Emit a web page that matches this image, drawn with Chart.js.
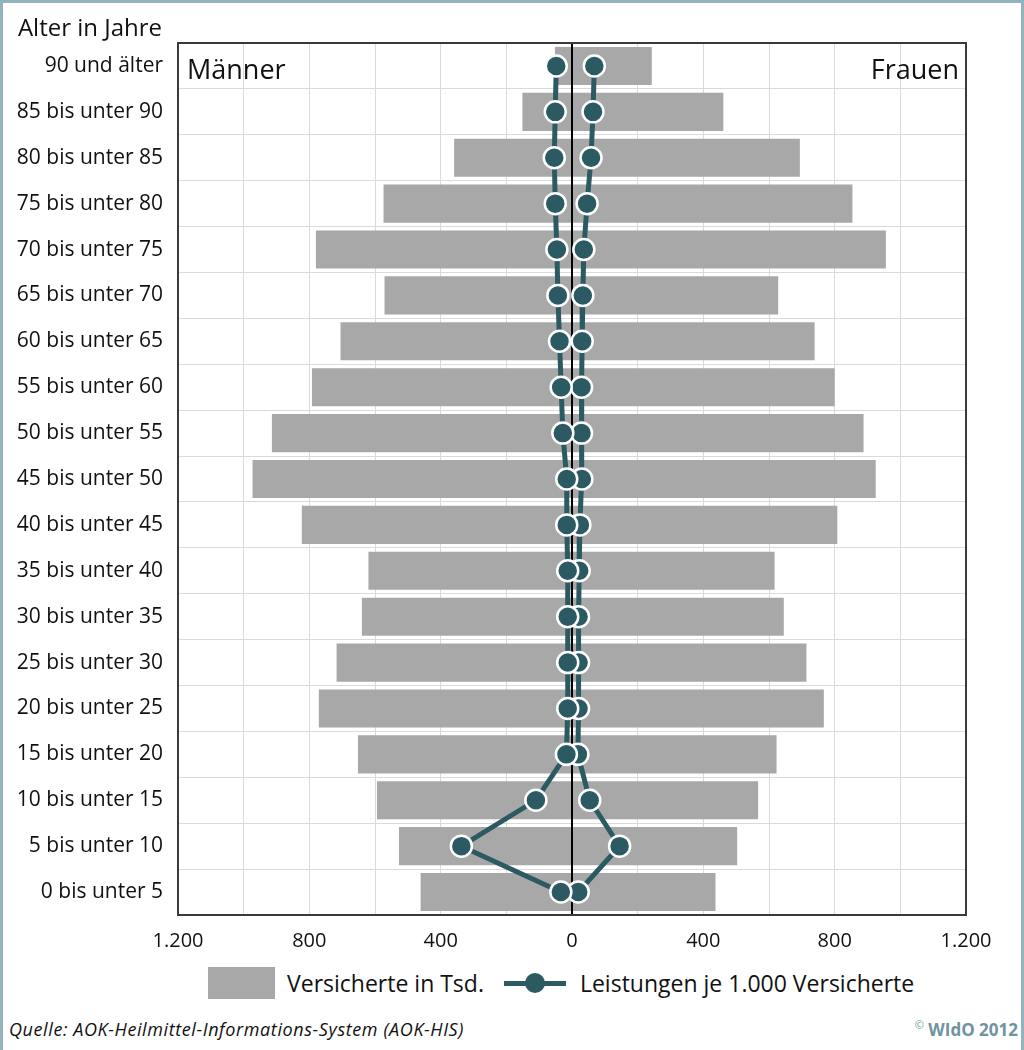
<!DOCTYPE html>
<html lang="de">
<head>
<meta charset="utf-8">
<script src="https://cdn.jsdelivr.net/npm/chart.js@4"></script>
<style>
    html, body { margin: 0; padding: 0; background: #fff; }
    body { width: 1024px; height: 1050px; position: relative; overflow: hidden; font-family: 'Open Sans', sans-serif; color: #111; }
    .frame { position: absolute; left: 0; top: 0; width: 1018px; height: 1050px; border: 3px solid #92b3bd; border-bottom: none; }
    .chart-box { position: absolute; left: 0; top: 0; width: 1024px; height: 960px; }
    .legend { position: absolute; top: 967px; left: 208px; display: flex; align-items: center; font-size: 23px; }
    .legend .bar-swatch { width: 67px; height: 32px; background: #a8a8a8; margin-right: 12px; }
    .legend .line-swatch { position: relative; width: 62px; height: 22px; margin: 0 14px 0 20px; }
    .legend .line-swatch::before { content: ''; position: absolute; left: 0; right: 0; top: 9px; height: 5px; background: #2c5a63; }
    .legend .line-swatch::after { content: ''; position: absolute; left: 21px; top: 1px; width: 20px; height: 20px; border-radius: 50%; background: #2c5a63; }
    .source { position: absolute; left: 9px; top: 1017px; font-size: 18px; letter-spacing: 0.6px; font-style: italic; }
    .copy { position: absolute; right: 6px; top: 1017px; font-size: 17px; font-weight: bold; color: #6f93a0; }
    .copy sup { font-size: 11px; font-weight: normal; }
</style>
</head>
<body>
<div class="frame"></div>
<div class="chart-box"><canvas id="pyramid"></canvas></div>
<div class="legend">
    <span class="bar-swatch"></span><span>Versicherte in Tsd.</span>
    <span class="line-swatch"></span><span>Leistungen je 1.000 Versicherte</span>
</div>
<div class="source">Quelle: AOK-Heilmittel-Informations-System (AOK-HIS)</div>
<div class="copy"><sup>©</sup> WIdO 2012</div>
<script>
const AGE_GROUPS = [
    '90 und älter', '85 bis unter 90', '80 bis unter 85', '75 bis unter 80', '70 bis unter 75',
    '65 bis unter 70', '60 bis unter 65', '55 bis unter 60', '50 bis unter 55', '45 bis unter 50',
    '40 bis unter 45', '35 bis unter 40', '30 bis unter 35', '25 bis unter 30', '20 bis unter 25',
    '15 bis unter 20', '10 bis unter 15', '5 bis unter 10', '0 bis unter 5'
];
// Versicherte in Tsd.
const MEN_INSURED = [52, 151, 359, 574, 780, 571, 705, 792, 914, 973, 823, 620, 640, 717, 771, 652, 594, 527, 461];
const WOMEN_INSURED = [243, 461, 694, 854, 956, 628, 739, 800, 888, 925, 808, 617, 645, 714, 767, 623, 567, 503, 437];
const MEN_SERVICES = [48, 51, 54, 51, 46, 43, 38, 33, 28, 16, 16, 13, 13, 13, 13, 17, 110, 337, 34];
const WOMEN_SERVICES = [68, 64, 58, 46, 36, 33, 31, 29, 29, 30, 24, 22, 20, 20, 20, 18, 54, 145, 19];
const X_MIN = -1200;
const X_MAX = 1200;
const X_STEP = 200;
const X_LABEL_STEP = 400;

const BAR_COLOR = '#a8a8a8';
const LINE_COLOR = '#2c5a63';
const GRID_COLOR = '#dadada';

function formatTick(value) {
    return String(Math.abs(value)).replace(/\B(?=(\d{3})+(?!\d))/g, '.');
}

const frameAndLabels = {
    id: 'frameAndLabels',
    afterDatasetDraw(chart, args) {
        // zero line sits on top of the bars, under the lines
        if (args.index !== 2) return;
        const { ctx, chartArea } = chart;
        const x0 = chart.scales.x.getPixelForValue(0);
        ctx.save();
        ctx.strokeStyle = '#000';
        ctx.lineWidth = 2;
        ctx.beginPath();
        ctx.moveTo(x0, chartArea.top);
        ctx.lineTo(x0, chartArea.bottom);
        ctx.stroke();
        ctx.restore();
    },
    afterDraw(chart) {
        const { ctx, chartArea } = chart;
        ctx.save();
        ctx.strokeStyle = '#3a3a3a';
        ctx.lineWidth = 2;
        ctx.strokeRect(chartArea.left, chartArea.top, chartArea.right - chartArea.left, chartArea.bottom - chartArea.top);

        ctx.fillStyle = '#111';
        ctx.textBaseline = 'alphabetic';
        ctx.font = '27px "Open Sans"';
        ctx.textAlign = 'left';
        ctx.fillText('Männer', chartArea.left + 9, chartArea.top + 36);
        ctx.textAlign = 'right';
        ctx.fillText('Frauen', chartArea.right - 7, chartArea.top + 36);

        ctx.font = '24px "Open Sans"';
        ctx.fillText('Alter in Jahre', 162, 36);
        ctx.restore();
    }
};

new Chart(document.getElementById('pyramid'), {
    type: 'bar',
    data: {
        labels: AGE_GROUPS,
        datasets: [
            {
                type: 'line',
                label: 'Leistungen Männer',
                data: MEN_SERVICES.map(v => -v),
                borderColor: LINE_COLOR,
                borderWidth: 5,
                pointRadius: 10.5,
                pointBorderWidth: 2.5,
                pointBackgroundColor: LINE_COLOR,
                pointBorderColor: '#ffffff',
                tension: 0
            },
            {
                type: 'line',
                label: 'Leistungen Frauen',
                data: WOMEN_SERVICES,
                borderColor: LINE_COLOR,
                borderWidth: 5,
                pointRadius: 10.5,
                pointBorderWidth: 2.5,
                pointBackgroundColor: LINE_COLOR,
                pointBorderColor: '#ffffff',
                tension: 0
            },
            {
                label: 'Versicherte Männer',
                data: MEN_INSURED.map(v => -v),
                backgroundColor: BAR_COLOR,
                stack: 'pop',
                barPercentage: 0.83,
                categoryPercentage: 1
            },
            {
                label: 'Versicherte Frauen',
                data: WOMEN_INSURED,
                backgroundColor: BAR_COLOR,
                stack: 'pop',
                barPercentage: 0.83,
                categoryPercentage: 1
            }
        ]
    },
    options: {
        indexAxis: 'y',
        responsive: true,
        maintainAspectRatio: false,
        animation: false,
        layout: { padding: { left: 0, top: 43, right: 58, bottom: 0 } },
        plugins: {
            legend: { display: false },
            tooltip: { enabled: false }
        },
        scales: {
            x: {
                min: X_MIN,
                max: X_MAX,
                border: { display: false },
                grid: { color: GRID_COLOR, lineWidth: 1, drawTicks: false },
                ticks: {
                    stepSize: X_STEP,
                    autoSkip: false,
                    maxRotation: 0,
                    padding: 14,
                    color: '#111',
                    font: { family: 'Open Sans', size: 20 },
                    callback: value => (value % X_LABEL_STEP === 0 ? formatTick(value) : '')
                },
                afterFit: scale => { scale.height = 45; }
            },
            y: {
                stacked: true,
                border: { display: false },
                grid: { color: GRID_COLOR, lineWidth: 1, drawTicks: false, offset: true },
                ticks: {
                    padding: 15,
                    color: '#111',
                    autoSkip: false,
                    font: { family: 'Open Sans', size: 21 }
                },
                afterFit: scale => { scale.width = 178; }
            }
        }
    },
    plugins: [frameAndLabels]
});
</script>
</body>
</html>
